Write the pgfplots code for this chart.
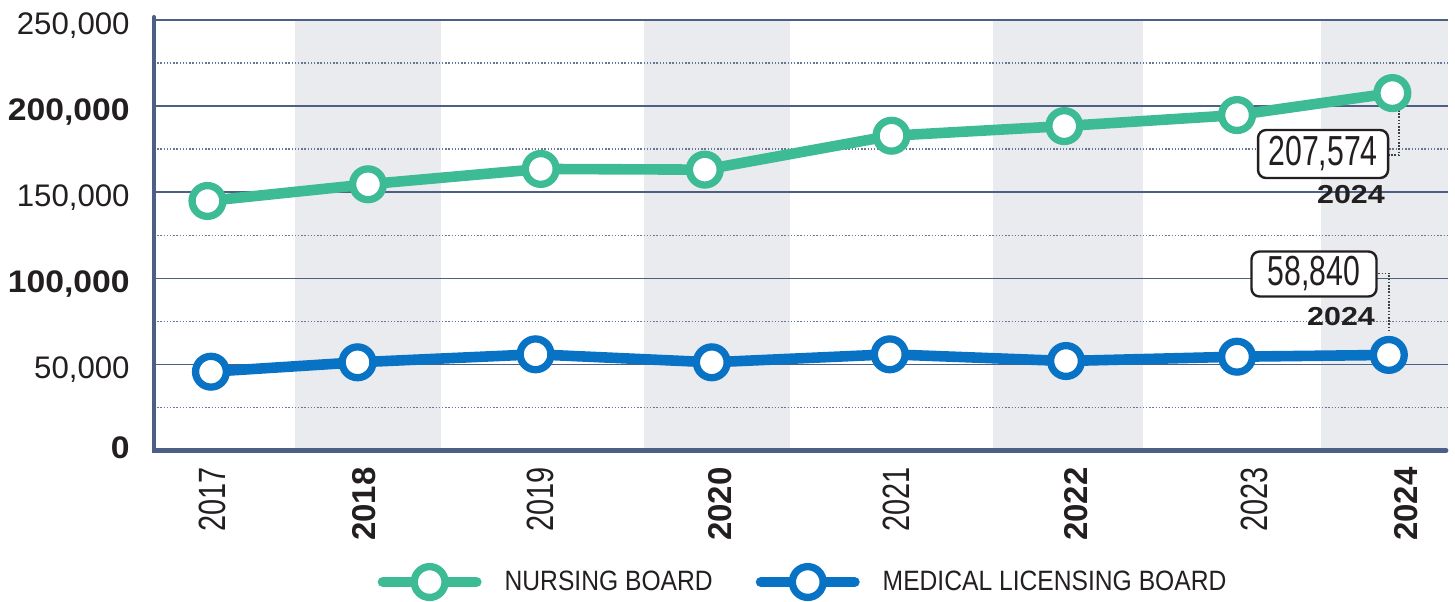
\documentclass[border=0pt]{standalone}
\usepackage{pgfplots}
\pgfplotsset{compat=1.18}
\usepackage{fontspec}
\setmainfont{Liberation Sans}
\newfontfamily\fA{Liberation Sans}[FakeStretch=0.76]
\newfontfamily\fBw{Liberation Sans}[FakeStretch=1.08]
\newfontfamily\fLeg{Liberation Sans}[FakeStretch=0.88]
\newfontfamily\fAnn{Liberation Sans}[FakeStretch=0.72]
\newfontfamily\fAnnB{Liberation Sans}[FakeStretch=1.17]
\definecolor{gr}{HTML}{3DBB94}
\definecolor{bl}{HTML}{0873C4}
\definecolor{slate}{HTML}{4C5F85}
\definecolor{band}{HTML}{EAEBEF}
\definecolor{txt}{HTML}{231F20}
\newcommand\yr[1]{{\fA\fontsize{19}{19}\selectfont #1}}
\newcommand\yrb[1]{{\fontsize{16.5}{16.5}\selectfont\bfseries #1}}
\newcommand\yl[1]{{\fontsize{15.6}{15.6}\selectfont #1}}
\newcommand\ylb[1]{{\fBw\fontsize{15.6}{15.6}\selectfont\bfseries #1}}
\begin{document}
\begin{tikzpicture}
\begin{axis}[
  scale only axis, width=647pt, height=215.25pt,
  xmin=2016.7736, xmax=2024.1891, ymin=0, ymax=250000,
  set layers, clip=false,
  axis line style={draw=none},
  scaled y ticks=false, scaled x ticks=false,
  ytick={0,50000,100000,150000,200000,250000},
  yticklabels={{\ylb{\raisebox{3.5pt}{0}}},{\yl{50,000}},{\ylb{100,000}},{\yl{150,000}},{\ylb{200,000}},{\yl{250,000}}},
  minor ytick={25000,75000,125000,175000,225000},
  ymajorgrids, yminorgrids,
  major grid style={slate, line width=0.8pt},
  minor grid style={slate!85, line width=0.7pt, dash pattern=on 0.7pt off 0.9pt},
  major tick length=0pt, minor tick length=0pt,
  xtick={2017.11,2017.98,2018.99,2020.02,2021.03,2022.06,2023.08,2023.95},
  xticklabels={{\yr{2017}},{\yrb{2018}},{\yr{2019}},{\yrb{2020}},{\yr{2021}},{\yrb{2022}},{\yr{2023}},{\yrb{2024}}},
  xticklabel style={yshift=-8.25pt, rotate=90, anchor=east, inner sep=0pt, text=txt},
  yticklabel style={inner sep=0pt, anchor=base east, xshift=-12pt, yshift=-7.25pt, text=txt},
  legend columns=2,
  legend style={at={(0.5008,-0.3055)}, anchor=center, draw=none, fill=none,
    nodes={inner sep=0pt, text=txt, font=\fLeg\fontsize{14}{14}\selectfont},
    /tikz/column 1/.style={column sep=11.5pt},
    /tikz/column 2/.style={column sep=21.5pt},
    /tikz/column 3/.style={column sep=11.5pt}},
  legend image code/.code={\draw[mark repeat=2,mark phase=2,#1] plot coordinates {(0pt,0pt) (23.35pt,0pt) (46.7pt,0pt)};},
]
\begin{pgfonlayer}{axis background}
\fill[band] (axis cs:2017.5817,0) rectangle (axis cs:2018.4183,250000);
\fill[band] (axis cs:2019.5817,0) rectangle (axis cs:2020.4183,250000);
\fill[band] (axis cs:2021.5834,0) rectangle (axis cs:2022.4417,250000);
\fill[band] (axis cs:2023.461,0) rectangle (axis cs:2024.1891,250000);
\end{pgfonlayer}
\draw[slate, line width=2.3pt, line cap=round] (axis cs:2016.7736,251600) -- (axis cs:2016.7736,0) -- (axis cs:2024.178,0);
\draw[black!75, line width=0.6pt, dash pattern=on 0.8pt off 0.8pt] (axis cs:2023.908,197720) -- (axis cs:2023.908,171600) -- (axis cs:2023.845,171600);
\draw[black!75, line width=0.6pt, dash pattern=on 0.8pt off 0.8pt] (axis cs:2023.790,102900) -- (axis cs:2023.851,102900) -- (axis cs:2023.851,68230);
\addplot[gr, line width=5.3pt, line cap=round, mark=*, mark size=7.7pt, mark options={fill=white, line width=3.65pt, solid}] coordinates {
(2017.08,144900) (2018.00,154600) (2018.99,163500) (2019.93,163100) (2021.00,182800) (2021.99,188400) (2022.98,194800) (2023.87,207574)};
\addlegendentry{NURSING BOARD}
\addplot[bl, line width=5.3pt, line cap=round, mark=*, mark size=7.7pt, mark options={fill=white, line width=3.65pt, solid}] coordinates {
(2017.10,45760) (2017.94,51220) (2018.96,55860) (2019.97,51220) (2020.99,55860) (2022.00,51970) (2022.98,54470) (2023.85,55500)};
\addlegendentry{MEDICAL LICENSING BOARD}
\node[draw=txt, line width=1.2pt, rounded corners=4pt, fill=white, minimum width=65pt, minimum height=24pt, inner sep=0pt, text=txt, font=\fAnn\fontsize{21}{21}\selectfont] at (axis cs:2023.473,172180) {207,574};
\node[text=txt, inner sep=0pt, font=\fAnnB\fontsize{13}{13}\selectfont\bfseries] at (axis cs:2023.633,148370) {2024};
\node[draw=txt, line width=1.2pt, rounded corners=4pt, fill=white, minimum width=62.5pt, minimum height=22.5pt, inner sep=0pt, text=txt, font=\fAnn\fontsize{21}{21}\selectfont] at (axis cs:2023.421,102490) {58,840};
\node[text=txt, inner sep=0pt, font=\fAnnB\fontsize{13}{13}\selectfont\bfseries] at (axis cs:2023.576,77700) {2024};
\end{axis}
\pgfresetboundingbox
\useasboundingbox (-77pt,-75.25pt) rectangle (650.5pt,225.25pt);
\end{tikzpicture}
\end{document}
